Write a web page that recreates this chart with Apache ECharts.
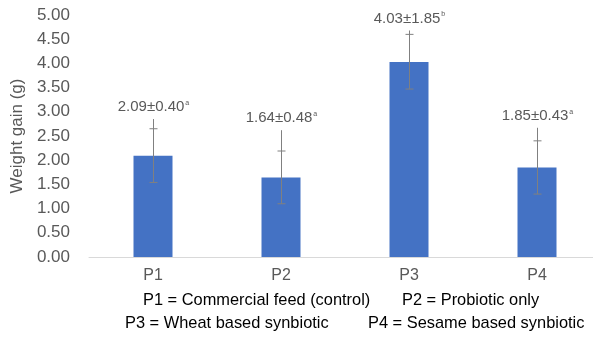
<!DOCTYPE html>
<html>
<head>
<meta charset="utf-8">
<script src="https://cdn.jsdelivr.net/npm/echarts@6/dist/echarts.min.js"></script>
<style>
  html, body { margin: 0; padding: 0; background: #fff; overflow: hidden; }
  #chart { width: 601px; height: 347px; }
</style>
</head>
<body>
<div id="chart"></div>
<script>
// Treatment groups and mean weight gain (g)
const categories = ['P1', 'P2', 'P3', 'P4'];
const meanGain = [2.09, 1.64, 4.03, 1.85];
const sdGain = ['0.40', '0.48', '1.85', '0.43'];
const sigLetters = ['a', 'a', 'b', 'a'];
// Error bar extents as plotted (lower cap, upper cap, whisker top)
const errLow = [1.54, 1.10, 3.47, 1.30];
const errHigh = [2.65, 2.19, 4.60, 2.40];
const whiskerTop = [2.85, 2.62, 4.68, 2.67];
const yTicks = { min: 0, max: 5, interval: 0.5 };
const legendLines = [
  ['P1 = Commercial feed (control)', 'P2 = Probiotic only'],
  ['P3 = Wheat based synbiotic', 'P4 = Sesame based synbiotic']
];

const FONT = 'Liberation Sans';
const chart = echarts.init(document.getElementById('chart'), null, { renderer: 'canvas' });

const errData = categories.map((c, i) => [i, errLow[i], errHigh[i], whiskerTop[i], meanGain[i]]);

const option = {
  animation: false,
  backgroundColor: '#ffffff',
  grid: { left: 89, top: 15, right: 0, height: 242, containLabel: false },
  xAxis: {
    type: 'category',
    data: categories,
    axisLine: { lineStyle: { color: '#d9d9d9', width: 1 } },
    axisTick: { show: false },
    axisLabel: { color: '#595959', fontFamily: FONT, fontSize: 16, margin: 11 }
  },
  yAxis: {
    type: 'value',
    min: yTicks.min, max: yTicks.max, interval: yTicks.interval,
    name: 'Weight gain (g)',
    nameLocation: 'middle',
    nameGap: 59,
    nameTextStyle: { color: '#595959', fontFamily: FONT, fontSize: 17 },
    axisLine: { show: false },
    axisTick: { show: false },
    splitLine: { show: false },
    axisLabel: {
      color: '#595959', fontFamily: FONT, fontSize: 17, margin: 19,
      formatter: v => v.toFixed(2)
    }
  },
  series: [
    {
      type: 'bar',
      data: meanGain,
      barWidth: 39,
      itemStyle: { color: '#4472c4' }
    },
    {
      type: 'custom',
      data: errData,
      z: 10,
      renderItem: function (params, api) {
        const i = api.value(0);
        const low = api.coord([i, api.value(1)]);
        const high = api.coord([i, api.value(2)]);
        const top = api.coord([i, api.value(3)]);
        const x = Math.round(low[0]) + 0.5;
        const capHalf = 4;
        const stroke = { stroke: '#808080', lineWidth: 1 };
        return {
          type: 'group',
          children: [
            { type: 'line', shape: { x1: x, y1: top[1], x2: x, y2: low[1] }, style: stroke },
            { type: 'line', shape: { x1: x - capHalf, y1: high[1], x2: x + capHalf, y2: high[1] }, style: stroke },
            { type: 'line', shape: { x1: x - capHalf, y1: low[1], x2: x + capHalf, y2: low[1] }, style: stroke },
            {
              type: 'text',
              x: x,
              y: top[1] - 12,
              style: {
                text: '{v|' + meanGain[i].toFixed(2) + '±' + sdGain[i] + '}{s|' + sigLetters[i] + '}',
                align: 'center',
                verticalAlign: 'middle',
                rich: {
                  v: { fontFamily: FONT, fontSize: 15, fill: '#595959', color: '#595959' },
                  s: { fontFamily: FONT, fontSize: 7, fill: '#595959', color: '#595959', verticalAlign: 'top', padding: [0, 0, 8, 1] }
                }
              }
            }
          ]
        };
      }
    }
  ],
  graphic: [
    { type: 'text', left: 143, top: 292, style: { text: legendLines[0][0], fontFamily: FONT, fontSize: 16.4, fill: '#000' } },
    { type: 'text', left: 402, top: 292, style: { text: legendLines[0][1], fontFamily: FONT, fontSize: 16.4, fill: '#000' } },
    { type: 'text', left: 125, top: 315, style: { text: legendLines[1][0], fontFamily: FONT, fontSize: 16.4, fill: '#000' } },
    { type: 'text', left: 368, top: 315, style: { text: legendLines[1][1], fontFamily: FONT, fontSize: 16.4, fill: '#000' } }
  ]
};

chart.setOption(option);
</script>
</body>
</html>
